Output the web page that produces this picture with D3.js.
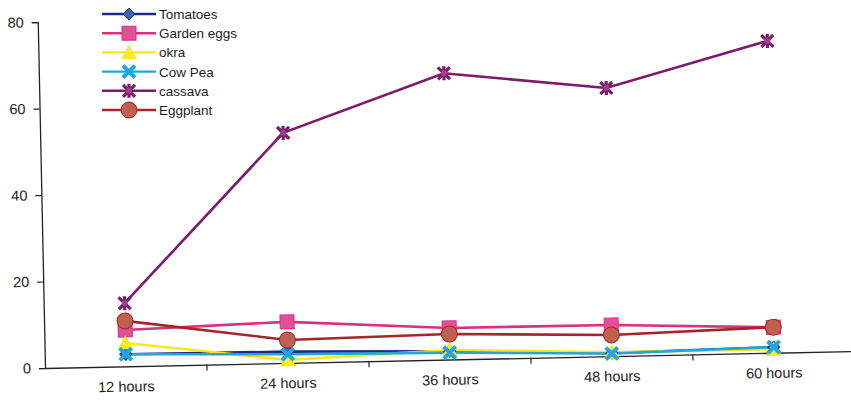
<!DOCTYPE html>
<html>
<head>
<meta charset="utf-8">
<script src="https://cdn.jsdelivr.net/npm/d3@7"></script>
<style>
  html, body { margin: 0; padding: 0; background: #fff; }
  svg { display: block; }
  text { font-family: "Liberation Sans", Arial, sans-serif; fill: #1c1c1c; }
</style>
</head>
<body>
<svg id="chart" width="851" height="403"></svg>
<script>
// Time points on the category axis
const categories = ["12 hours", "24 hours", "36 hours", "48 hours", "60 hours"];

// Values per crop, one entry per time point
const tomatoes   = [2.8, 2.6, 1.9, 0.7, 1.3];
const gardenEggs = [8.4, 9.5, 7.3, 7.2, 5.9];
const okra       = [5.4, 0.7, 2.2, 0.9, 0.8];
const cowPea     = [2.8, 2.0, 1.6, 0.6, 1.3];
const cassava    = [14.6, 53.2, 66.2, 62.0, 72.1];
const eggplant   = [10.5, 5.3, 5.9, 4.9, 5.9];

const yTicks = [0, 20, 40, 60, 80];

const series = [
  { name: "Tomatoes",    values: tomatoes,   line: "#1b2a82", fill: "#3c64a8", marker: "diamond" },
  { name: "Garden eggs", values: gardenEggs, line: "#d8327f", fill: "#e0509a", marker: "square" },
  { name: "okra",        values: okra,       line: "#f4e81a", fill: "#f8ec20", marker: "triangle" },
  { name: "Cow Pea",     values: cowPea,     line: "#1ea6e0", fill: "#1ea6e0", marker: "cross" },
  { name: "cassava",     values: cassava,    line: "#7c1a6c", fill: "#a04090", marker: "asterisk" },
  { name: "Eggplant",    values: eggplant,   line: "#a4262a", fill: "#c0604e", marker: "circle" }
];

const svg = d3.select("#chart");
svg.append("rect").attr("width", 851).attr("height", 403).attr("fill", "#fff");

const origin = { x: 45, y: 368 };
const plot = svg.append("g")
  .attr("transform", `rotate(-1.2, ${origin.x}, ${origin.y})`);

const x = d3.scaleBand().domain(categories).range([origin.x, 855]);
const y = d3.scaleLinear().domain([0, 80]).range([origin.y, 22]);

// Y axis
const yAxis = plot.append("g")
  .attr("transform", `translate(${origin.x},0)`)
  .call(d3.axisLeft(y).tickValues(yTicks).tickSize(6).tickPadding(8));
yAxis.select(".domain").attr("stroke", "#222").attr("stroke-width", 1.3);
yAxis.selectAll(".tick line").attr("stroke", "#222").attr("stroke-width", 1.2);
yAxis.selectAll(".tick text").attr("font-size", 14.5).attr("fill", "#1c1c1c")
  .style("font-family", '"Liberation Sans", Arial, sans-serif');

// X axis with ticks between categories
const xAxis = plot.append("g")
  .attr("transform", `translate(0,${origin.y})`)
  .call(d3.axisBottom(x).tickSize(0).tickPadding(15));
xAxis.select(".domain").attr("stroke", "#222").attr("stroke-width", 1.3);
xAxis.selectAll(".tick text").attr("font-size", 14.5).attr("fill", "#1c1c1c")
  .style("font-family", '"Liberation Sans", Arial, sans-serif');
xAxis.selectAll(".sep")
  .data(categories.slice(1))
  .enter().append("line")
  .attr("class", "sep")
  .attr("x1", d => x(d)).attr("x2", d => x(d))
  .attr("y1", 0).attr("y2", 6)
  .attr("stroke", "#222").attr("stroke-width", 1.2);

const cx = c => x(c) + x.bandwidth() / 2;

function drawMarker(g, type, px, py, s) {
  switch (type) {
    case "diamond":
      g.append("path")
        .attr("d", `M${px},${py - 6}L${px + 6},${py}L${px},${py + 6}L${px - 6},${py}Z`)
        .attr("fill", s.fill).attr("stroke", s.line).attr("stroke-width", 1);
      break;
    case "square":
      g.append("rect")
        .attr("x", px - 7).attr("y", py - 7).attr("width", 14).attr("height", 14)
        .attr("fill", s.fill).attr("stroke", s.line).attr("stroke-width", 1);
      break;
    case "triangle":
      g.append("path")
        .attr("d", `M${px},${py - 7}L${px + 7},${py + 6}L${px - 7},${py + 6}Z`)
        .attr("fill", s.fill).attr("stroke", s.line).attr("stroke-width", 1);
      break;
    case "cross":
      g.append("path")
        .attr("d", `M${px - 6},${py - 6}L${px + 6},${py + 6}M${px + 6},${py - 6}L${px - 6},${py + 6}`)
        .attr("stroke", s.line).attr("stroke-width", 4).attr("fill", "none");
      break;
    case "asterisk":
      g.append("path")
        .attr("d", `M${px - 6},${py - 6}L${px + 6},${py + 6}M${px + 6},${py - 6}L${px - 6},${py + 6}M${px},${py - 7}L${px},${py + 7}`)
        .attr("stroke", s.line).attr("stroke-width", 3.2).attr("fill", "none");
      g.append("circle").attr("cx", px).attr("cy", py).attr("r", 3).attr("fill", s.fill);
      break;
    case "circle":
      g.append("circle")
        .attr("cx", px).attr("cy", py).attr("r", 8)
        .attr("fill", s.fill).attr("stroke", s.line).attr("stroke-width", 1);
      break;
  }
}

const line = d3.line().x((d, i) => cx(categories[i])).y(d => y(d));

// Lines first, then markers on top
series.forEach(s => {
  plot.append("path")
    .datum(s.values)
    .attr("d", line)
    .attr("fill", "none")
    .attr("stroke", s.line)
    .attr("stroke-width", 2.6);
});
series.forEach(s => {
  const g = plot.append("g");
  s.values.forEach((v, i) => drawMarker(g, s.marker, cx(categories[i]), y(v), s));
});

// Legend
const legend = svg.append("g");
series.forEach((s, i) => {
  const ly = 14 + i * 19.2;
  const row = legend.append("g");
  row.append("line")
    .attr("x1", 102).attr("x2", 156).attr("y1", ly).attr("y2", ly)
    .attr("stroke", s.line).attr("stroke-width", 2.4);
  drawMarker(row, s.marker, 129, ly, s);
  row.append("text")
    .attr("x", 159).attr("y", ly + 5)
    .attr("font-size", 13.5)
    .text(s.name);
});
</script>
</body>
</html>
